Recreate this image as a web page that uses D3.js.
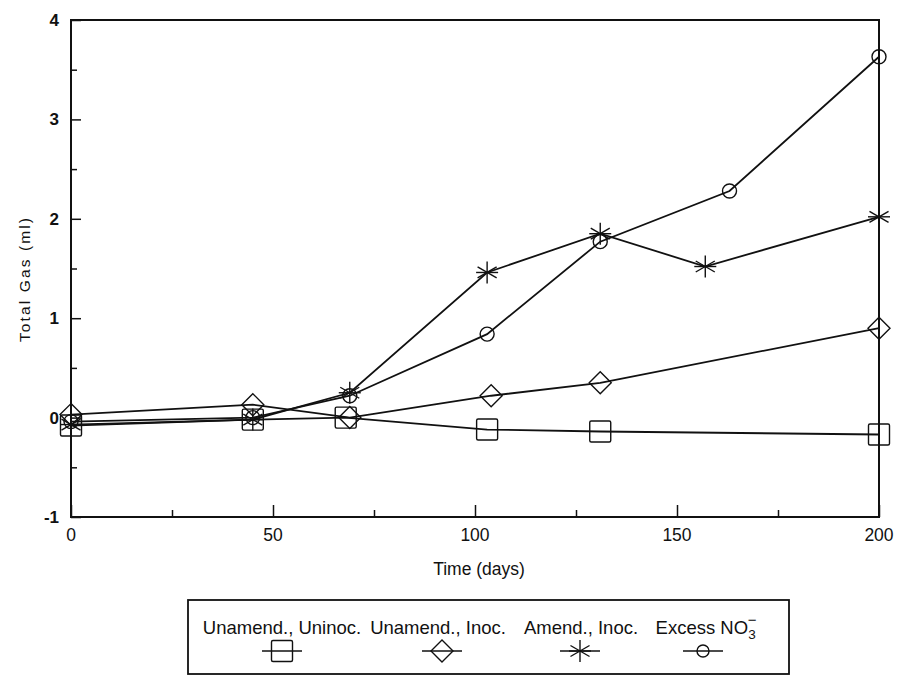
<!DOCTYPE html>
<html><head><meta charset="utf-8">
<script src="https://cdn.jsdelivr.net/npm/d3@7"></script>
<style>body{margin:0;background:#fff}text{font-family:"Liberation Sans",Arial,sans-serif;fill:#111}</style>
</head><body><svg id="c" width="903" height="677"></svg>
<script>
const seriesNames = ["Unamend., Uninoc.", "Unamend., Inoc.", "Amend., Inoc.", "Excess NO3-"];
const squareDays = [0, 45, 68, 103, 131, 200];
const squareVals = [-0.08, -0.02, 0.0, -0.12, -0.14, -0.17];
const diamondDays = [0, 45, 69, 104, 131, 200];
const diamondVals = [0.03, 0.13, 0.0, 0.22, 0.35, 0.9];
const starDays = [0, 45, 69, 103, 131, 157, 200];
const starVals = [-0.07, -0.02, 0.25, 1.46, 1.85, 1.52, 2.02];
const circleDays = [0, 45, 69, 103, 131, 163, 200];
const circleVals = [-0.04, 0.0, 0.22, 0.84, 1.77, 2.28, 3.63];
const xTicks = [0, 50, 100, 150, 200];
const yTicks = [-1, 0, 1, 2, 3, 4];

const svg = d3.select("#c");
const ink = "#111";
const x = d3.scaleLinear().domain([0, 200]).range([71, 879]);
const y = d3.scaleLinear().domain([-1, 4]).range([517, 20]);

// frame
svg.append("rect").attr("x", x(0)).attr("y", y(4)).attr("width", x(200) - x(0)).attr("height", y(-1) - y(4))
  .attr("fill", "none").attr("stroke", ink).attr("stroke-width", 2);

// y ticks (inward)
const yAxis = d3.axisRight(y).tickValues(d3.range(-1, 4.01, 0.5)).tickSize(0).tickFormat("");
const ya = svg.append("g").attr("transform", `translate(${x(0)},0)`).call(yAxis);
ya.select(".domain").remove();
ya.selectAll(".tick").append("line").attr("x1", 0).attr("x2", d => Number.isInteger(d) ? 10 : 6).attr("stroke", ink).attr("stroke-width", 1.5);
svg.append("g").selectAll("text").data(yTicks).join("text")
  .attr("x", 59).attr("y", d => y(d) + 6).attr("text-anchor", "end").attr("font-size", 17).attr("font-weight", "bold").text(d => d);

// x ticks (inward)
const xAxis = d3.axisTop(x).tickValues(d3.range(0, 201, 25)).tickSize(0).tickFormat("");
const xa = svg.append("g").attr("transform", `translate(0,${y(-1)})`).call(xAxis);
xa.select(".domain").remove();
xa.selectAll(".tick").append("line").attr("y1", 0).attr("y2", d => d % 50 === 0 ? -12 : -7).attr("stroke", ink).attr("stroke-width", 1.5);
svg.append("g").selectAll("text").data(xTicks).join("text")
  .attr("x", d => x(d)).attr("y", 541).attr("text-anchor", "middle").attr("font-size", 17.5).text(d => d);

svg.append("text").attr("x", 479).attr("y", 575).attr("text-anchor", "middle").attr("font-size", 17.5).text("Time (days)");
svg.append("text").attr("transform", "translate(30,280) rotate(-90)").attr("text-anchor", "middle").attr("font-size", 15.5)
  .attr("textLength", 124).attr("lengthAdjust", "spacing").text("Total Gas (ml)");

function marker(g, type, cx, cy) {
  if (type === "square") g.append("rect").attr("x", cx - 10.5).attr("y", cy - 10.5).attr("width", 21).attr("height", 21).attr("rx", 1.5).attr("fill", "none").attr("stroke", ink).attr("stroke-width", 1.4);
  else if (type === "diamond") g.append("path").attr("d", `M${cx},${cy-11}L${cx+11},${cy}L${cx},${cy+11}L${cx-11},${cy}Z`).attr("fill", "none").attr("stroke", ink).attr("stroke-width", 1.4);
  else if (type === "circle") g.append("circle").attr("cx", cx).attr("cy", cy).attr("r", 7).attr("fill", "none").attr("stroke", ink).attr("stroke-width", 1.4);
  else if (type === "star") {
    const r = 11;
    [90, 30, 150, 0].forEach(a => {
      const rad = a * Math.PI / 180;
      g.append("line").attr("x1", cx - r * Math.cos(rad)).attr("y1", cy - r * Math.sin(rad))
        .attr("x2", cx + r * Math.cos(rad)).attr("y2", cy + r * Math.sin(rad)).attr("stroke", ink).attr("stroke-width", 1.4);
    });
  }
}

const series = [
  {name: seriesNames[0], days: squareDays, vals: squareVals, type: "square"},
  {name: seriesNames[1], days: diamondDays, vals: diamondVals, type: "diamond"},
  {name: seriesNames[2], days: starDays, vals: starVals, type: "star"},
  {name: seriesNames[3], days: circleDays, vals: circleVals, type: "circle"}
];
const line = d3.line().x(d => x(d[0])).y(d => y(d[1]));
series.forEach(s => {
  const pts = s.days.map((d, i) => [d, s.vals[i]]);
  svg.append("path").attr("d", line(pts)).attr("fill", "none").attr("stroke", ink).attr("stroke-width", 1.8);
  const g = svg.append("g");
  pts.forEach(p => marker(g, s.type, x(p[0]), y(p[1])));
});

// legend
svg.append("rect").attr("x", 188).attr("y", 600).attr("width", 601).attr("height", 74).attr("fill", "none").attr("stroke", ink).attr("stroke-width", 1.8);
const legX = [282, 442, 580, 703];
const legTextX = [282, 438, 581, 706];
series.forEach((s, i) => {
  const t = svg.append("text").attr("x", legTextX[i]).attr("y", 634).attr("text-anchor", "middle").attr("font-size", 18.5);
  if (i === 3) {
    t.append("tspan").text("Excess NO");
    t.append("tspan").attr("font-size", 13.5).attr("dy", 5).text("3");
    t.append("tspan").attr("font-size", 15).attr("dy", -14).attr("dx", -8).text("−");
  } else t.text(s.name);
  const ly = 651;
  svg.append("line").attr("x1", legX[i] - 20).attr("x2", legX[i] + 20).attr("y1", ly).attr("y2", ly).attr("stroke", ink).attr("stroke-width", 1.6);
  const g = svg.append("g");
  if (s.type === "circle") g.append("circle").attr("cx", legX[i]).attr("cy", ly).attr("r", 6).attr("fill", "none").attr("stroke", ink).attr("stroke-width", 1.4);
  else marker(g, s.type, legX[i], ly);
});
</script></body></html>
